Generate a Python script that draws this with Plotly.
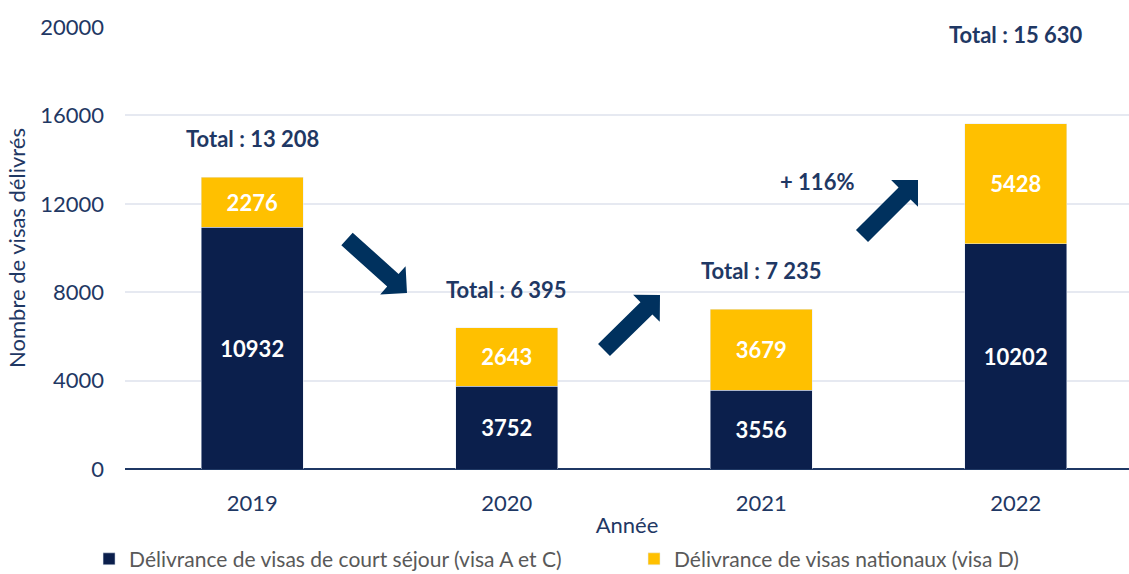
import math
import plotly.graph_objects as go

years = ["2019", "2020", "2021", "2022"]
court_sejour = [10932, 3752, 3556, 10202]
nationaux = [2276, 2643, 3679, 5428]
total_labels = ["Total : 13 208", "Total : 6 395", "Total : 7 235", "Total : 15 630"]
total_label_offsets = [1750, 1750, 1750, 4050]
series_names = ["Délivrance de visas de court séjour (visa A et C)",
                "Délivrance de visas nationaux (visa D)"]
growth_label = "+ 116%"
y_ticks = [0, 4000, 8000, 12000, 16000, 20000]

NAVY = "#0b1f4c"
YELLOW = "#ffc000"
ARROW = "#00315e"
TEXT = "#1f3864"
FONT = "Lato"
FS = 22

W, H = 1129, 574
L, R, T, B = 125, 0, 27, 105
PW, PH = W - L - R, H - T - B

x = list(range(len(years)))
totals = [a + b for a, b in zip(court_sejour, nationaux)]

fig = go.Figure()
fig.add_trace(go.Bar(x=x, y=court_sejour, name=series_names[0], marker_color=NAVY,
                     width=0.4, text=[str(v) for v in court_sejour], textposition="inside",
                     insidetextanchor="middle", legend="legend",
                     textfont=dict(color="white", size=FS, family=FONT, weight="bold")))
fig.add_trace(go.Bar(x=x, y=nationaux, name=series_names[1], marker_color=YELLOW,
                     width=0.4, text=[str(v) for v in nationaux], textposition="inside",
                     insidetextanchor="middle", legend="legend2",
                     textfont=dict(color="white", size=FS, family=FONT, weight="bold")))

for xi, tot, lab, off in zip(x, totals, total_labels, total_label_offsets):
    fig.add_annotation(x=xi, y=tot + off, text=f"<b>{lab}</b>", showarrow=False,
                       font=dict(color=TEXT, size=FS, family=FONT))

fig.add_annotation(x=2.22, y=13030, text=f"<b>{growth_label}</b>", showarrow=False,
                   font=dict(color=TEXT, size=FS, family=FONT))


def arrow_path(tail, tip, sw=17, hw=38, hl=19):
    dx, dy = tip[0] - tail[0], tip[1] - tail[1]
    n = math.hypot(dx, dy)
    ux, uy = dx / n, dy / n
    nx, ny = -uy, ux
    neck = (tip[0] - ux * hl, tip[1] - uy * hl)
    pts = [
        (tail[0] + nx * sw / 2, tail[1] + ny * sw / 2),
        (neck[0] + nx * sw / 2, neck[1] + ny * sw / 2),
        (neck[0] + nx * hw / 2, neck[1] + ny * hw / 2),
        tip,
        (neck[0] - nx * hw / 2, neck[1] - ny * hw / 2),
        (neck[0] - nx * sw / 2, neck[1] - ny * sw / 2),
        (tail[0] - nx * sw / 2, tail[1] - ny * sw / 2),
    ]

    def conv(p):
        return ((p[0] - L) / PW, (T + PH - p[1]) / PH)
    cp = [conv(p) for p in pts]
    return "M " + " L ".join(f"{a:.5f},{b:.5f}" for a, b in cp) + " Z"


for tail, tip in [((347, 239), (407, 293)), ((604, 350), (660, 295)), ((862, 236), (918, 180))]:
    fig.add_shape(type="path", path=arrow_path(tail, tip), xref="paper", yref="paper",
                  fillcolor=ARROW, line=dict(width=0), layer="above")

legend_common = dict(orientation="h", yanchor="middle", y=-0.204, xanchor="left",
                     font=dict(size=21, color="#595959", family=FONT),
                     bgcolor="rgba(0,0,0,0)")

fig.update_layout(
    barmode="stack",
    width=W, height=H,
    margin=dict(l=L, r=R, t=T, b=B, autoexpand=False),
    plot_bgcolor="white", paper_bgcolor="white",
    font=dict(family=FONT, color=TEXT, size=FS),
    legend=dict(x=-0.0358, **legend_common),
    legend2=dict(x=0.507, **legend_common),
    xaxis=dict(tickmode="array", tickvals=x, ticktext=years, range=[-0.5, 3.445],
               showgrid=False, showline=False, zeroline=False, ticks="",
               automargin=False, ticklabelstandoff=19,
               tickfont=dict(size=FS, color=TEXT),
               title=dict(text="Année", font=dict(size=FS, color=TEXT), standoff=2)),
    yaxis=dict(range=[0, 20000], tickmode="array", tickvals=y_ticks,
               ticktext=[str(v) for v in y_ticks],
               showgrid=True, gridcolor="#e6e9f1", gridwidth=1.5, zeroline=True,
               zerolinecolor="#1f3864", zerolinewidth=2, ticks="",
               automargin=False,
               tickfont=dict(size=FS, color=TEXT), ticklabelstandoff=20,
               title=dict(text="Nombre de visas délivrés", font=dict(size=FS, color=TEXT),
                          standoff=8)),
    showlegend=True,
)

fig.write_html("out.html", config={"displayModeBar": False},
               post_script="document.body.style.margin='0';document.body.style.overflow='hidden';")
